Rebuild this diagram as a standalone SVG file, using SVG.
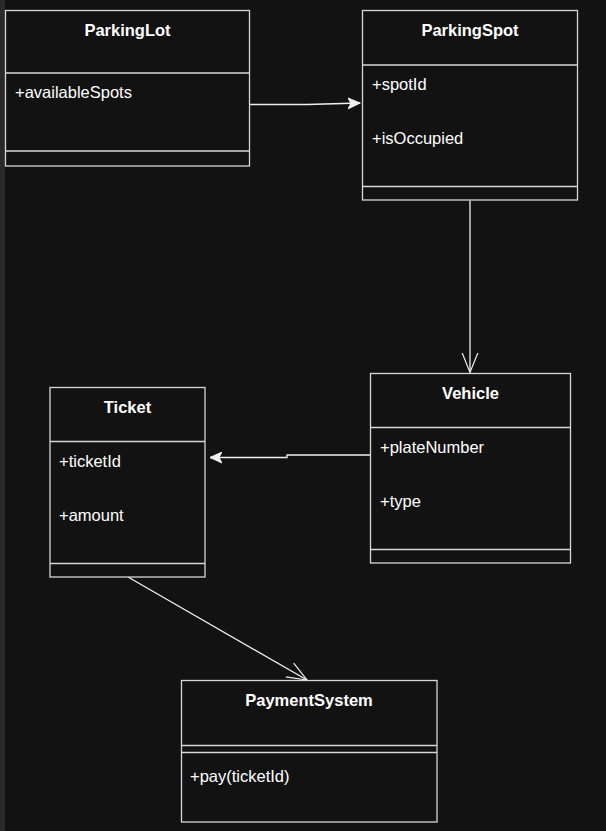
<svg xmlns="http://www.w3.org/2000/svg" width="606" height="831" viewBox="0 0 606 831">
<style>
.box{fill:#121212;stroke:#d6d6d6;stroke-width:1.3}
.div{stroke:#d6d6d6;stroke-width:1.3}
.t{font-family:"Liberation Sans",Arial,sans-serif;font-size:16.5px;font-weight:bold;fill:#ffffff;text-anchor:middle}
.a{font-family:"Liberation Sans",Arial,sans-serif;font-size:16.5px;fill:#ffffff}
.c{fill:none;stroke:#f0f0f0;stroke-width:1.3}
</style>
<defs>
<marker id="classic" markerWidth="14" markerHeight="12" refX="12" refY="6" orient="auto" markerUnits="userSpaceOnUse">
<path d="M0,0.5 L12,6 L0,11.5 L3,6 Z" fill="#f0f0f0" stroke="#f0f0f0" stroke-width="1"/>
</marker>
<marker id="open" markerWidth="22" markerHeight="18" refX="20" refY="9" orient="auto" markerUnits="userSpaceOnUse">
<path d="M0,1 L20,9 L0,17" fill="none" stroke="#f0f0f0" stroke-width="1.2"/>
</marker>
</defs>
<rect x="0" y="0" width="606" height="831" fill="#121212"/>
<rect x="0" y="0" width="5" height="831" fill="#2a2a2a"/>
<g id="connectors">
<path class="c" d="M250,104.5 L307,104.5 L360,103" marker-end="url(#classic)"/>
<path class="c" d="M470,200.5 L470,372.5" marker-end="url(#open)"/>
<path class="c" d="M370,455 L287,455 L287,457.5 L210,457.5" marker-end="url(#classic)"/>
<path class="c" d="M128,577 L307,680" marker-end="url(#open)"/>
</g>
<g id="ParkingLot">
<rect class="box" x="5.5" y="10.5" width="244" height="155.5"/>
<line class="div" x1="5.5" y1="73" x2="249.5" y2="73"/>
<line class="div" x1="5.5" y1="151" x2="249.5" y2="151"/>
<text class="t" x="127.5" y="36">ParkingLot</text>
<text class="a" x="15" y="98">+availableSpots</text>
</g>
<g id="ParkingSpot">
<rect class="box" x="362.5" y="10.5" width="215" height="189.5"/>
<line class="div" x1="362.5" y1="65" x2="577.5" y2="65"/>
<line class="div" x1="362.5" y1="186.5" x2="577.5" y2="186.5"/>
<text class="t" x="470" y="36">ParkingSpot</text>
<text class="a" x="372" y="90">+spotId</text>
<text class="a" x="372" y="144">+isOccupied</text>
</g>
<g id="Vehicle">
<rect class="box" x="370.5" y="373.5" width="200" height="189.5"/>
<line class="div" x1="370.5" y1="427.5" x2="570.5" y2="427.5"/>
<line class="div" x1="370.5" y1="549.5" x2="570.5" y2="549.5"/>
<text class="t" x="470.5" y="399">Vehicle</text>
<text class="a" x="380" y="453">+plateNumber</text>
<text class="a" x="380" y="507">+type</text>
</g>
<g id="Ticket">
<rect class="box" x="50" y="387.5" width="155" height="189.5"/>
<line class="div" x1="50" y1="441.5" x2="205" y2="441.5"/>
<line class="div" x1="50" y1="563.5" x2="205" y2="563.5"/>
<text class="t" x="127.5" y="413">Ticket</text>
<text class="a" x="59" y="467">+ticketId</text>
<text class="a" x="59" y="521">+amount</text>
</g>
<g id="PaymentSystem">
<rect class="box" x="181.5" y="680.5" width="255.5" height="141.5"/>
<line class="div" x1="181.5" y1="745.5" x2="437" y2="745.5"/>
<line class="div" x1="181.5" y1="752.5" x2="437" y2="752.5"/>
<text class="t" x="309" y="706">PaymentSystem</text>
<text class="a" x="190" y="782">+pay(ticketId)</text>
</g>
</svg>
